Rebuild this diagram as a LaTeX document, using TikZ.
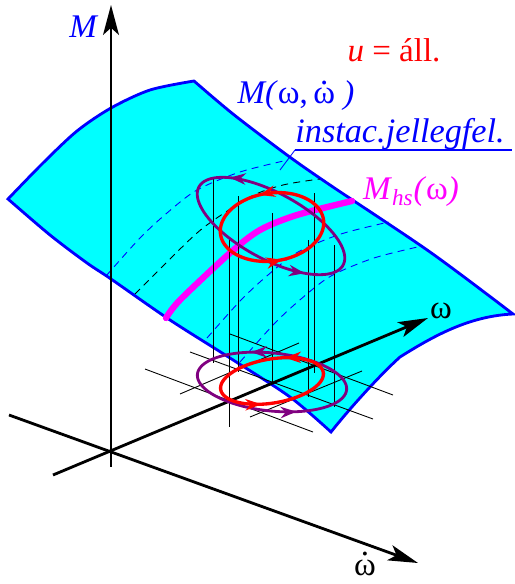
\documentclass[tikz,border=0pt]{standalone}
\usepackage{fontspec}
\setmainfont{Liberation Serif}
\usetikzlibrary{arrows.meta,decorations.markings}
\definecolor{surfCyan}{HTML}{00FFFF}
\definecolor{edgeBlue}{HTML}{0000FF}
\definecolor{loopPurple}{HTML}{800080}
\definecolor{hsMagenta}{HTML}{FF00FF}
\newcommand{\wdot}{\ooalign{ω\cr\hidewidth\raisebox{0.6em}{.}\hidewidth\cr}}

\begin{document}
\begin{tikzpicture}[x=0.02cm, y=-0.02cm, font=\fontsize{18.8}{22}\selectfont]

    \def\orbit#1#2#3#4#5{plot[domain=360:0, samples=120]
        ({#1+#3*cos(\x)*cos(#5)-#4*sin(\x)*sin(#5)},
         {#2+#3*cos(\x)*sin(#5)+#4*sin(\x)*cos(#5)}) -- cycle}
    \def\isocurve{plot[smooth] coordinates {(106,276) (140,238) (167,213) (197,190) (240,172) (288,160)}}
    \tikzset{
      axisline/.style={line width=1.6pt, -{Stealth[length=17pt, width=9pt, inset=4pt]}},
      thinline/.style={line width=0.5pt},
      isoline/.style={line width=0.5pt, dash pattern=on 4pt off 3pt},
      spin/.style 2 args={postaction={decorate, decoration={markings,
          mark=at position #1 with {\arrow{Stealth[length=9pt, width=6.5pt]}},
          mark=at position #2 with {\arrow{Stealth[length=9pt, width=6.5pt]}}}}}}

    \useasboundingbox (0,0) rectangle (514,584);

    % the characteristic surface
    \filldraw[fill=surfCyan, draw=edgeBlue, line width=1.6pt]
      plot[smooth] coordinates {(8,199) (43,163) (77,131) (111,108) (150,90) (194,81)}
      -- plot[smooth] coordinates {(194,81) (233,114) (287,155) (330,185) (430,252) (513,314)}
      .. controls (470,316) and (435,335) .. (400,357)
      .. controls (380,375) and (350,408) .. (331,432)
      -- plot[smooth] coordinates {(331,432) (290,397) (230,358) (170,320) (111,279) (87,263) (50,235) (8,199)}
      -- cycle;

    % dashed lines on the surface
    \draw[isoline, edgeBlue] \isocurve;
    \draw[isoline, edgeBlue, shift={(101,62)}] \isocurve;
    \draw[isoline, edgeBlue, shift={(134,86)}] \isocurve;
    \draw[isoline] plot[smooth] coordinates {(135,294) (167,262) (203,228) (250,197) (283,185) (320,179)};

    % static characteristic
    \draw[hsMagenta, line width=3.6pt, line cap=round]
      plot[smooth] coordinates {(166,318) (180,300) (230,253) (260,230) (297,215) (352,201)};

    % grid in the base plane
    \foreach \ax/\ay/\bx/\by in {190/352/373/419, 230/334/393/395, 145/369/313/432,
                                  180/394/299/343, 250/417/362/371}
      \draw[thinline] (\ax,\ay) -- (\bx,\by);

    % projecting lines
    \foreach \px/\top/\bot in {213/178/363, 229/240/427, 238/196/372, 272/213/383,
                               308/240/397, 314/193/373, 334/245/407}
      \draw[thinline] (\px,\top) -- (\px,\bot);

    % axes
    \coordinate (O) at (111,451);
    \coordinate (Mtip) at (111,5);
    \coordinate (wtip) at (428,318);
    \coordinate (wdtip) at (418,563);
    \draw[line width=1.6pt] (O) -- (111,467);
    \draw[axisline] (O) -- (Mtip);
    \draw[axisline] (53,475) -- (wtip);
    \draw[axisline] (9,415) -- (wdtip);

    % loops on the surface and below it
    \draw[loopPurple, line width=1.6pt, spin={0.41}{0.89}] \orbit{271}{226}{82}{33}{28.5};
    \draw[red, line width=1.9pt, spin={0.28}{0.77}] \orbit{272}{227}{52}{34}{-8};
    \draw[loopPurple, line width=1.6pt, spin={0.32}{0.83}] \orbit{272}{382}{75}{29}{6};
    \draw[red, line width=1.9pt, spin={0.18}{0.69}] \orbit{272}{381}{52}{22}{-9.5};

    % labels
    \node[edgeBlue] (Mlbl) at (84,27) {\textit{M}};
    \node[red] (ulbl) at (394,50) {\textit{u} = áll.};
    \node[edgeBlue] (Mfun) at (296,96) {\textit{M(}ω,\,\wdot\ \textit{)}};
    \node[edgeBlue, font=\fontsize{19.5}{22}\selectfont\itshape, inner sep=0pt,
          anchor=south west] (inst) at (295,150) {instac.jellegfel.};
    \coordinate (instend) at (280,170);
    \draw[edgeBlue, line width=0.9pt] (inst.south west) -- ([xshift=4pt]inst.south east);
    \draw[edgeBlue, line width=0.5pt] (inst.south west) -- (instend);
    \node[hsMagenta] (Mhs) at (411,192) {\textit{M}\textsubscript{\textit{hs}}\textit{(}ω\textit{)}};
    \node (wlbl) at (441,311) {ω};
    \node (wdlbl) at (365,568) {\wdot};

\end{tikzpicture}
\end{document}
